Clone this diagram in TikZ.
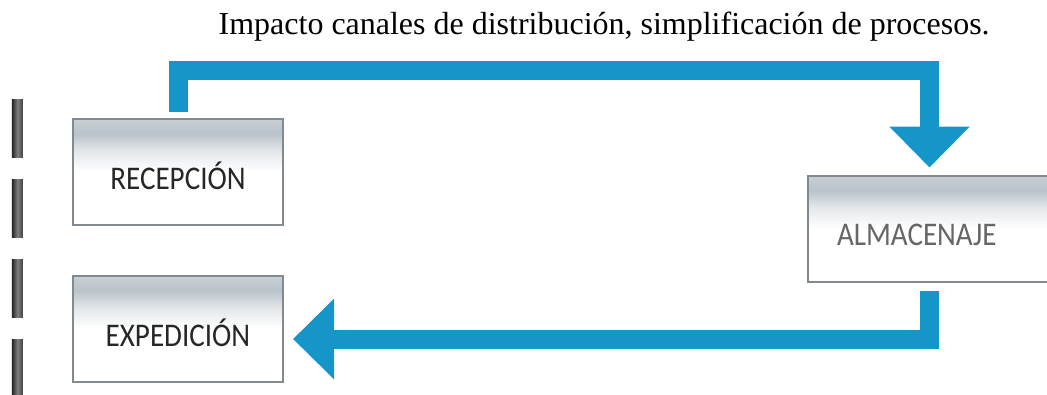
\documentclass[tikz,border=0pt]{standalone}
\usepackage{fontspec}
\setmainfont{Liberation Serif}
\newfontfamily\boxfont[FakeStretch=0.88]{Carlito}
\usetikzlibrary{positioning, calc, arrows.meta}
\definecolor{flowblue}{RGB}{22,150,200}
\definecolor{boxgray}{RGB}{186,195,202}
\definecolor{boxline}{RGB}{128,138,144}
\pgfdeclareverticalshading{boxfade}{100bp}{color(0bp)=(white); color(25bp)=(white);
  color(50bp)=(white); color(60bp)=(boxgray!40); color(68bp)=(boxgray);
  color(75bp)=(boxgray!80); color(100bp)=(boxgray!80)}

\begin{document}
\begin{tikzpicture}[
    area/.style={draw=boxline, line width=0.02cm, shading=boxfade,
                 minimum width=2.10cm, minimum height=1.06cm,
                 text height=0.34cm, text depth=0cm,
                 font=\boxfont\fontsize{9.4pt}{10pt}\selectfont, text=black!85},
    flow/.style={draw=flowblue, line width=0.19cm,
                 -{Triangle[width=0.78cm, length=0.41cm]}},
    marker/.style={left color=black!85, right color=black!75, middle color=black!50},
]
\useasboundingbox (0,0) rectangle (10.47,3.94);
\clip (0,0) rectangle (10.47,3.94);

\node[anchor=base west, inner sep=0pt, font=\fontsize{9.1pt}{11pt}\selectfont] (title)
    at (2.18, 3.60) {Impacto canales de distribución, simplificación de procesos.};

\node[area] (rec) at (1.78, 2.22) {RECEPCIÓN};
\node[area] (exp) at (1.78, 0.65) {EXPEDICIÓN};
\node[area, text width=1.85cm, inner xsep=0.29cm, align=left, text=black!60] (alm)
    at (9.295, 1.655) {ALMACENAJE};

\draw[flow] ([yshift=0.06cm]rec.north) |- ($(alm.north)+(0,1.045)$)
    -- ([yshift=0.07cm]alm.north);
\draw[flow] ([yshift=-0.08cm]alm.south) |- ($(exp.east)+(0.09,-0.10)$);

% side markers
\foreach \y in {2.37, 1.57, 0.77, -0.03}
    \shade[marker] (0.12, \y) rectangle ++(0.11, 0.58);
\end{tikzpicture}
\end{document}
